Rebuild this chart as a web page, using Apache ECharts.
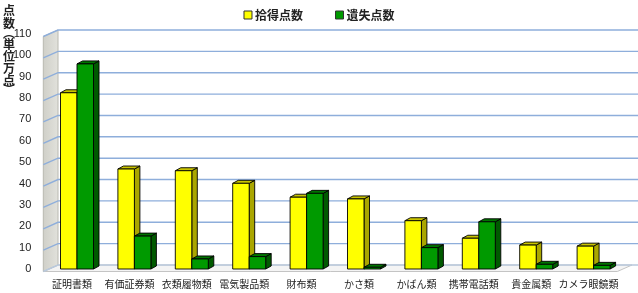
<!DOCTYPE html>
<html><head><meta charset="utf-8">
<script src="https://cdn.jsdelivr.net/npm/echarts@6/dist/echarts.min.js"></script>
<style>html,body{margin:0;padding:0;background:#fff}#c{width:638px;height:293px}</style>
</head><body><div id="c"></div>
<script>
const categories = ['証明書類','有価証券類','衣類履物類','電気製品類','財布類','かさ類','かばん類','携帯電話類','貴金属類','カメラ眼鏡類'];
const foundValues = [82.5, 46.8, 46.0, 40.1, 33.6, 32.8, 22.6, 14.4, 11.2, 10.7];
const lostValues  = [96.0, 15.4, 4.7, 5.8, 35.4, 0.8, 10.0, 22.1, 2.2, 1.7];
const seriesNames = ['拾得点数','遺失点数'];
const yTicks = [0,10,20,30,40,50,60,70,80,90,100,110];
const yTitleChars = ['点','数','︵','単','位','万','点','︶'];

const FRONT = {dx:-5, dy:2.5};
const BACK = {dx:9.7, dy:-4};
const DEPTH = {dx:5.5, dy:-3};
const BAR_W = 16.5;
const FONT = "'Noto Sans CJK JP', 'Liberation Sans', sans-serif";

const chart = echarts.init(document.getElementById('c'), null, {renderer:'canvas'});

function renderBg(params, api){
  const cs = params.coordSys;
  const left = cs.x, right = cs.x + cs.width;
  const y0 = api.coord([0, yTicks[0]])[1];
  const yTop = api.coord([0, yTicks[yTicks.length-1]])[1];
  const children = [];
  children.push({type:'polygon', shape:{points:[
    [left+FRONT.dx, y0+FRONT.dy],[right+FRONT.dx, y0+FRONT.dy],
    [right+BACK.dx, y0+BACK.dy],[left+BACK.dx, y0+BACK.dy]]},
    style:{fill:'#f4f4f4', stroke:'#c4c4c4', lineWidth:1}});
  children.push({type:'polygon', shape:{points:[
    [left+FRONT.dx, y0+FRONT.dy],[left+FRONT.dx, yTop+FRONT.dy],
    [left+BACK.dx, yTop+BACK.dy],[left+BACK.dx, y0+BACK.dy]]},
    style:{fill:new echarts.graphic.LinearGradient(0,0,1,0,[{offset:0,color:'#cfcfc8'},{offset:1,color:'#e2e2dc'}]), stroke:'#b8b8b0', lineWidth:1}});
  yTicks.forEach(function(t){
    const y = api.coord([0, t])[1];
    children.push({type:'polyline', shape:{points:[
      [left+FRONT.dx, y+FRONT.dy],[left+BACK.dx, y+BACK.dy],[right+BACK.dx+8, y+BACK.dy]]},
      style:{fill:null, stroke: t===0 ? '#b9c9dd' : '#8eaedb', lineWidth:1.4}});
  });
  return {type:'group', children:children};
}

function makeBarRender(leftSide, colors){
  return function(params, api){
    const i = api.value(0), v = api.value(1);
    const b = api.coord([i, 0]), t = api.coord([i, v]);
    const x0 = b[0] + (leftSide ? -BAR_W : 0), x1 = x0 + BAR_W;
    const yb = b[1], yt = t[1];
    const d = DEPTH;
    const st = {stroke:'#000', lineWidth:0.9, lineJoin:'round'};
    return {type:'group', children:[
      {type:'polygon', shape:{points:[[x1,yb],[x1+d.dx,yb+d.dy],[x1+d.dx,yt+d.dy],[x1,yt]]},
        style:Object.assign({fill:colors.side}, st)},
      {type:'polygon', shape:{points:[[x0,yt],[x0+d.dx,yt+d.dy],[x1+d.dx,yt+d.dy],[x1,yt]]},
        style:Object.assign({fill:colors.top}, st)},
      {type:'rect', shape:{x:x0, y:yt, width:BAR_W, height:yb-yt},
        style:Object.assign({fill:colors.front}, st)}
    ]};
  };
}

const titleGraphics = yTitleChars.map(function(ch, k){
  const ys = [10, 23.5, 33, 44, 56.5, 68.5, 80.5, 89];
  return {type:'text', x:9, y:ys[k], style:{text:ch, fontSize:12, fontWeight:'bold', fontFamily:FONT, fill:'#222', align:'center', verticalAlign:'middle'}};
});

const option = {
  animation:false,
  backgroundColor:'#fff',
  graphic: titleGraphics,
  legend:{
    data:[{name:seriesNames[0], icon:'rect'},{name:seriesNames[1], icon:'rect'}],
    top:4, left:'center', itemWidth:8, itemHeight:8, itemGap:32,
    itemStyle:{borderColor:'#333', borderWidth:1},
    textStyle:{fontSize:12, fontWeight:'bold', color:'#222', fontFamily:FONT, padding:[0,0,0,-2]}
  },
  grid:{left:48.3, right:15.7, top:34, bottom:24, containLabel:false},
  xAxis:{type:'category', data:categories,
    axisLine:{show:false}, axisTick:{show:false}, splitLine:{show:false},
    axisLabel:{interval:0, fontSize:10, color:'#222', margin:10, padding:[0,10,0,0], fontFamily:FONT}},
  yAxis:{type:'value', min:0, max:110, interval:10,
    axisLine:{show:false}, axisTick:{show:false}, splitLine:{show:false},
    axisLabel:{fontSize:11, color:'#222', margin:17, padding:[5,0,0,0], fontFamily:"'Liberation Sans', Arial, sans-serif"}},
  series:[
    {type:'custom', name:'bg', silent:true, z:1, clip:false, renderItem:renderBg, data:[[0,0]], encode:{x:0,y:1}},
    {type:'custom', name:seriesNames[0], z:2, clip:false,
      itemStyle:{color:'#ffff00', borderColor:'#333', borderWidth:1},
      renderItem:makeBarRender(true, {front:'#ffff00', top:'#c9c400', side:'#aaa600'}),
      encode:{x:0,y:1}, data:foundValues.map(function(v,i){return [i,v];})},
    {type:'custom', name:seriesNames[1], z:3, clip:false,
      itemStyle:{color:'#009a00', borderColor:'#333', borderWidth:1},
      renderItem:makeBarRender(false, {front:'#009a00', top:'#007400', side:'#005a00'}),
      encode:{x:0,y:1}, data:lostValues.map(function(v,i){return [i,v];})}
  ]
};
chart.setOption(option);
</script></body></html>
